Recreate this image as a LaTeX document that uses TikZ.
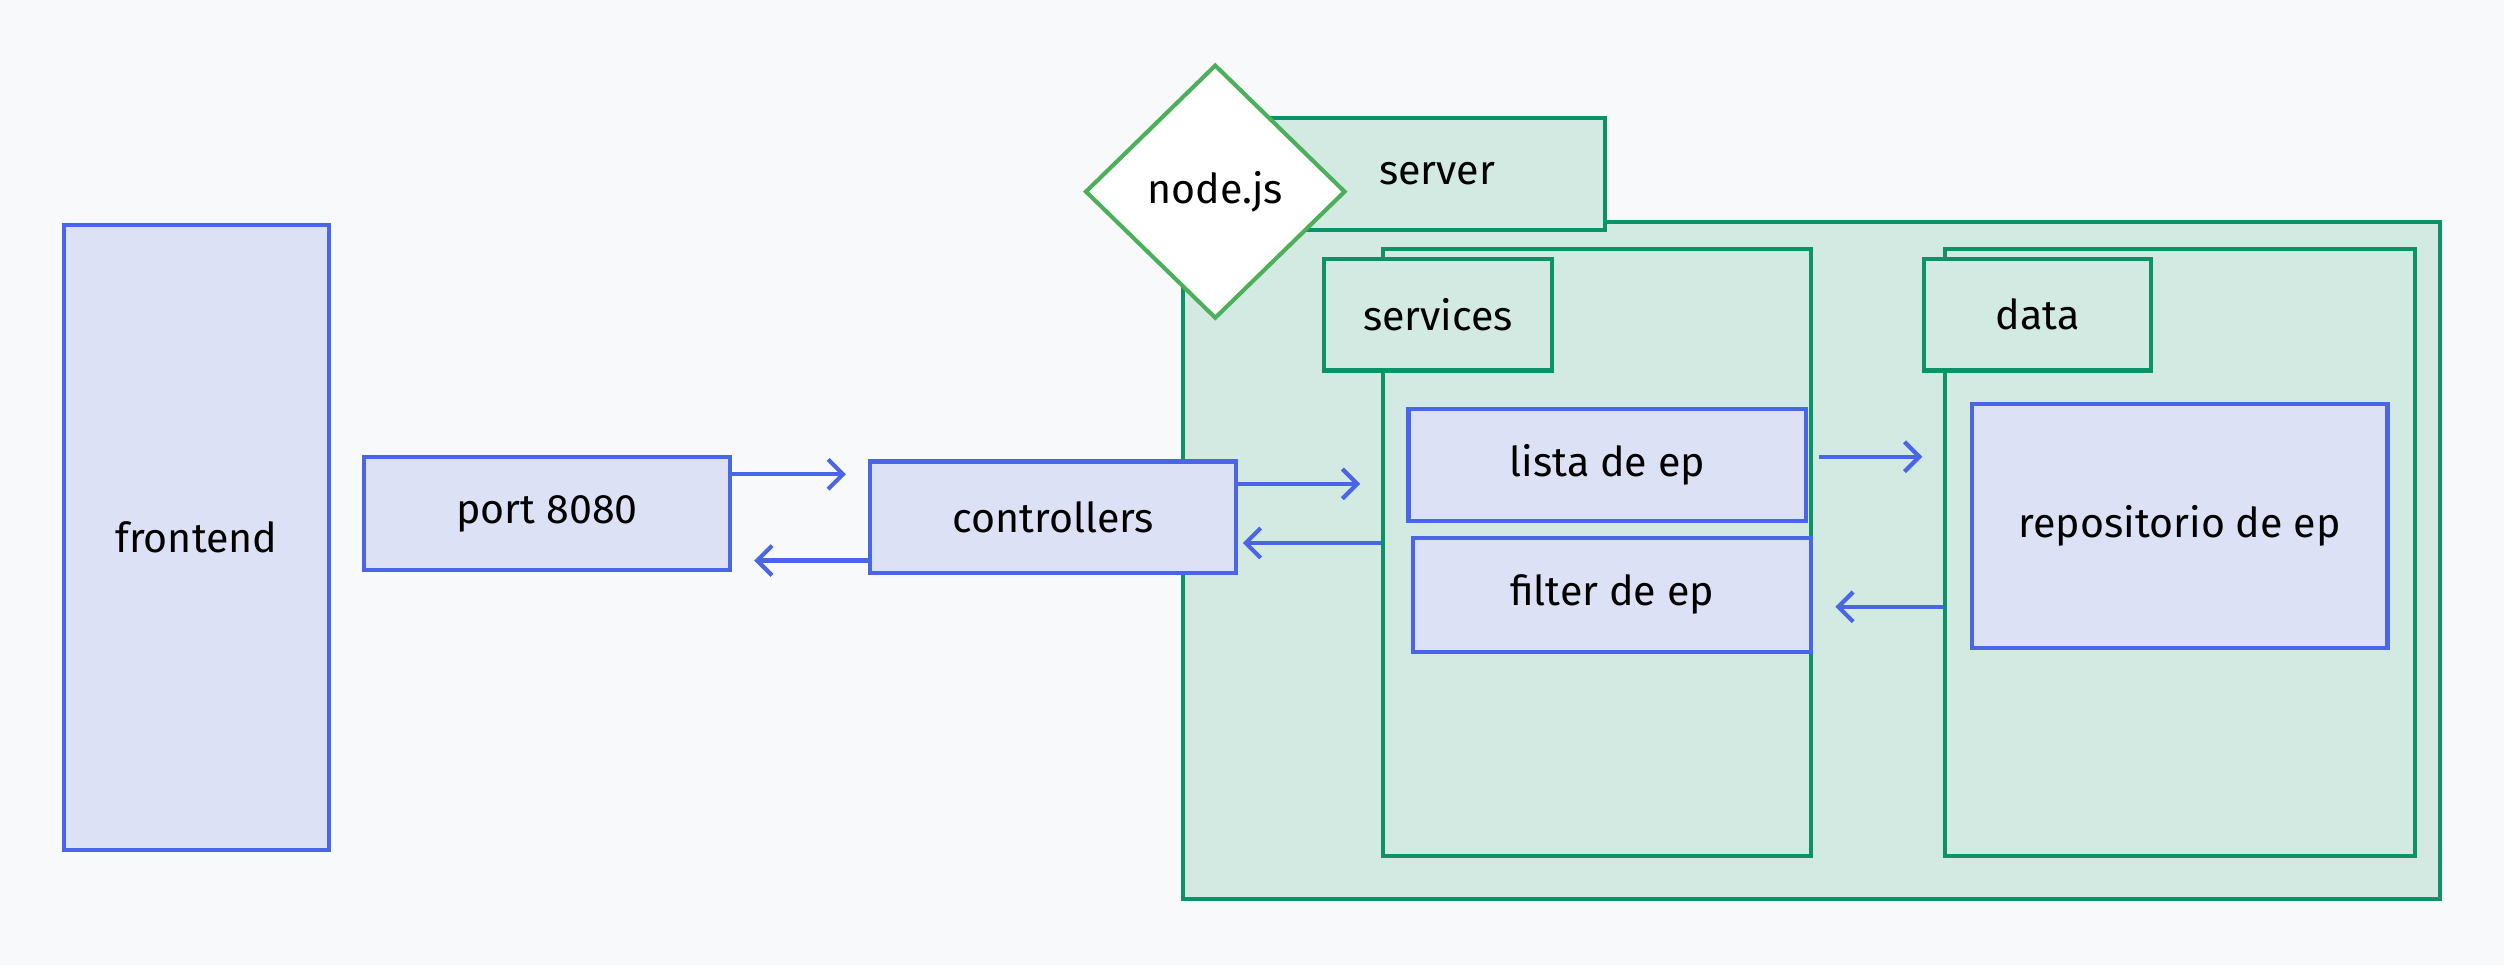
\documentclass[tikz,border=0pt]{standalone}
\usepackage{fontspec}
\setmainfont{Fira Sans}
\usetikzlibrary{shapes.geometric,arrows.meta}

\newlength\px
\setlength\px{0.15mm}

\definecolor{bgcol}{HTML}{F8F9FB}
\definecolor{bluestroke}{HTML}{4A65E8}
\definecolor{bluefill}{HTML}{DDE1F6}
\definecolor{greenstroke}{HTML}{0C9266}
\definecolor{greenfill}{HTML}{D3EAE3}
\definecolor{diamstroke}{HTML}{4CAF5A}

\begin{document}
\begin{tikzpicture}[x=0.15mm,y=-0.15mm]

	% styles
	\tikzstyle{blubox}=[draw=bluestroke,fill=bluefill,line width=1.1pt,inner sep=0pt,font=\fontsize{11}{13}\selectfont];
	\tikzstyle{grnbox}=[draw=greenstroke,fill=greenfill,line width=1.1pt,inner sep=0pt,font=\fontsize{11}{13}\selectfont];
	\tikzstyle{arr}=[draw=bluestroke,line width=1.1pt,-{Straight Barb[length=1.4mm,width=2.8mm]}];

	% page and background
	\fill[bgcol] (0,0) rectangle (1568,604);
	\useasboundingbox (0,0) rectangle (1568,604);

	% server container and its tab
	\node[grnbox,minimum width=787\px,minimum height=424\px] (srvbox) at (1134.5,351) {};
	\node[grnbox,minimum width=264\px,minimum height=70\px,label={[xshift=27\px,font=\fontsize{11}{13}\selectfont]center:server}] (srvtab) at (873,109) {};

	% services
	\node[grnbox,minimum width=268\px,minimum height=380\px] (svcbox) at (1000,346) {};
	\node[grnbox,minimum width=143\px,minimum height=70\px] (svctab) at (900.5,197) {services};
	\node[blubox,minimum width=249\px,minimum height=70\px] (lista) at (1006.5,291) {lista de ep};
	\node[blubox,minimum width=249\px,minimum height=71\px] (filter) at (1009.5,372.5) {filter de ep};

	% data
	\node[grnbox,minimum width=294\px,minimum height=380\px] (databox) at (1365,346) {};
	\node[grnbox,minimum width=142\px,minimum height=70\px] (datatab) at (1276,197) {data};
	\node[blubox,minimum width=260\px,minimum height=153\px] (repo) at (1365,329.5) {repositorio de ep};

	% left part (controllers lies over the server container)
	\node[blubox,minimum width=166\px,minimum height=391\px] (front) at (123,336.5) {frontend};
	\node[blubox,minimum width=229\px,minimum height=71\px] (port) at (342.5,321.5) {port 8080};
	\node[blubox,minimum width=229\px,minimum height=70\px] (ctrl) at (659.5,324) {controllers};

	% the diamond on top
	\node[diamond,draw=diamstroke,fill=white,line width=1.1pt,inner sep=0pt,minimum width=163\px,minimum height=159\px,font=\fontsize{11}{13}\selectfont] (nodejs) at (761,120) {node.js};

	% arrows between the boxes
	\draw[arr,shorten >=14\px] ([yshift=24.5\px]port.east) coordinate (a1) -- (a1 -| ctrl.west);
	\draw[arr,shorten >=14\px] ([yshift=-27\px]ctrl.west) coordinate (a2) -- (a2 -| port.east);
	\draw[arr,shorten >=13\px] ([yshift=21\px]ctrl.east) coordinate (a3) -- (a3 -| svcbox.west);
	\draw[arr,shorten >=3\px] ([yshift=6\px]svcbox.west) coordinate (a4) -- (a4 -| ctrl.east);
	\draw[arr,shorten <=7\px,shorten >=13\px] ([yshift=5\px]lista.east) coordinate (a5) -- (a5 -| databox.west);
	\draw[arr,shorten >=14\px] ([yshift=-34\px]databox.west) coordinate (a6) -- (a6 -| filter.east);

\end{tikzpicture}
\end{document}
